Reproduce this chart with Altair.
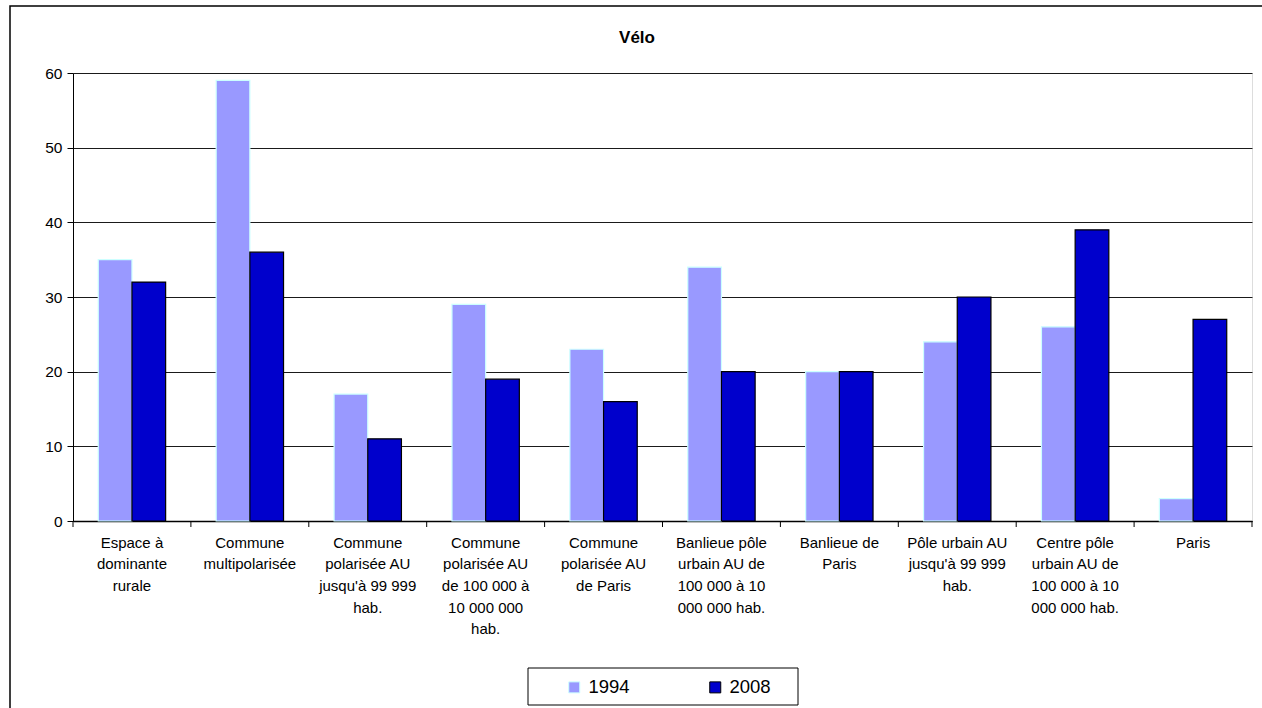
import altair as alt
import pandas as pd

title_text = "Vélo"
categories = [
    "Espace à\ndominante\nrurale",
    "Commune\nmultipolarisée",
    "Commune\npolarisée AU\njusqu'à 99 999\nhab.",
    "Commune\npolarisée  AU\nde 100 000 à\n10 000 000\nhab.",
    "Commune\npolarisée AU\nde Paris",
    "Banlieue pôle\nurbain AU de\n100 000 à 10\n000 000 hab.",
    "Banlieue de\nParis",
    "Pôle urbain AU\njusqu'à 99 999\nhab.",
    "Centre pôle\nurbain AU de\n100 000 à 10\n000 000 hab.",
    "Paris",
]
years = ["1994", "2008"]
values_1994 = [35, 59, 17, 29, 23, 34, 20, 24, 26, 3]
values_2008 = [32, 36, 11, 19, 16, 20, 20, 30, 39, 27]
fill_colors = ["#9999FF", "#0000CC"]
stroke_colors = ["#CCFFFF", "#000000"]
y_ticks = [0, 10, 20, 30, 40, 50, 60]

rows = []
for c, a, b in zip(categories, values_1994, values_2008):
    rows.append({"cat": c, "year": "1994", "val": a})
    rows.append({"cat": c, "year": "2008", "val": b})
df = pd.DataFrame(rows)
cat_df = pd.DataFrame({"cat": categories})
one = pd.DataFrame({"k": [0]})
title_df = pd.DataFrame({"t": [title_text]})

W, H = 1179, 448
FONT = "Liberation Sans"

x_enc = alt.X(
    "cat:N",
    sort=categories,
    scale=alt.Scale(paddingInner=0, paddingOuter=0),
    axis=alt.Axis(
        title=None,
        labelAngle=0,
        labelExpr="split(datum.label, '\\n')",
        labelFontSize=15,
        labelLineHeight=21.7,
        labelPadding=14,
        labelBaseline="top",
        labelLimit=300,
        labelColor="#000000",
        labelFont=FONT,
        ticks=False,
        domainColor="#000000",
        domainWidth=1.5,
    ),
)

legend_props = dict(
    title=None,
    orient="none",
    legendX=492,
    legendY=605,
    direction="horizontal",
    padding=0,
    symbolType="square",
    symbolSize=121,
    symbolStrokeWidth=1,
    labelFontSize=18.5,
    labelFont=FONT,
    labelColor="#000000",
    labelOffset=5,
    columnPadding=76,
)

bars = alt.Chart(df).mark_bar(strokeWidth=1.2).encode(
    x=x_enc,
    xOffset=alt.XOffset("year:N", sort=years,
                        scale=alt.Scale(paddingOuter=0.75, paddingInner=0)),
    y=alt.Y(
        "val:Q",
        scale=alt.Scale(domain=[0, 60], nice=False),
        axis=alt.Axis(
            title=None,
            values=y_ticks,
            labelFontSize=15.5,
            labelFont=FONT,
            labelColor="#000000",
            labelPadding=5,
            tickSize=6,
            tickColor="#000000",
            domainColor="#000000",
            grid=True,
            gridColor="#1a1a1a",
            gridWidth=1,
        ),
    ),
    fill=alt.Fill("year:N", sort=years,
                  scale=alt.Scale(domain=years, range=fill_colors),
                  legend=alt.Legend(**legend_props)),
    stroke=alt.Stroke("year:N", sort=years,
                      scale=alt.Scale(domain=years, range=stroke_colors),
                      legend=alt.Legend(**legend_props)),
)

ticks = alt.Chart(cat_df).mark_rule(color="#000000", strokeWidth=1).encode(
    x=alt.X("cat:N", sort=categories, bandPosition=0),
    y=alt.value(H),
    y2=alt.value(H + 6),
)
tick_end = alt.Chart(one).mark_rule(color="#000000", strokeWidth=1).encode(
    x=alt.value(W), y=alt.value(H), y2=alt.value(H + 6)
)

frame = alt.Chart(one).mark_rect(fill=None, stroke="#000000", strokeWidth=1.5).encode(
    x=alt.value(-63), y=alt.value(-67), x2=alt.value(W + 30), y2=alt.value(H + 220)
)
legend_box = alt.Chart(one).mark_rect(fill=None, stroke="#000000", strokeWidth=1).encode(
    x=alt.value(528 - 73), y=alt.value(668 - 73), x2=alt.value(798 - 73), y2=alt.value(705 - 73)
)
title = alt.Chart(title_df).mark_text(
    font=FONT, fontSize=17, fontWeight="bold", color="#000000",
    align="center", baseline="middle"
).encode(
    text="t:N", x=alt.value(637 - 73), y=alt.value(38 - 73)
)

chart = alt.layer(frame, bars, ticks, tick_end, legend_box, title).properties(
    width=W,
    height=H,
    autosize=alt.AutoSizeParams(type="none"),
    padding={"left": 73, "top": 73, "right": 10, "bottom": 187},
).configure_view(
    stroke="#808080", strokeWidth=1
).configure(background="#FFFFFF")

chart.save("out.html", embed_options={"renderer": "svg", "actions": False})
